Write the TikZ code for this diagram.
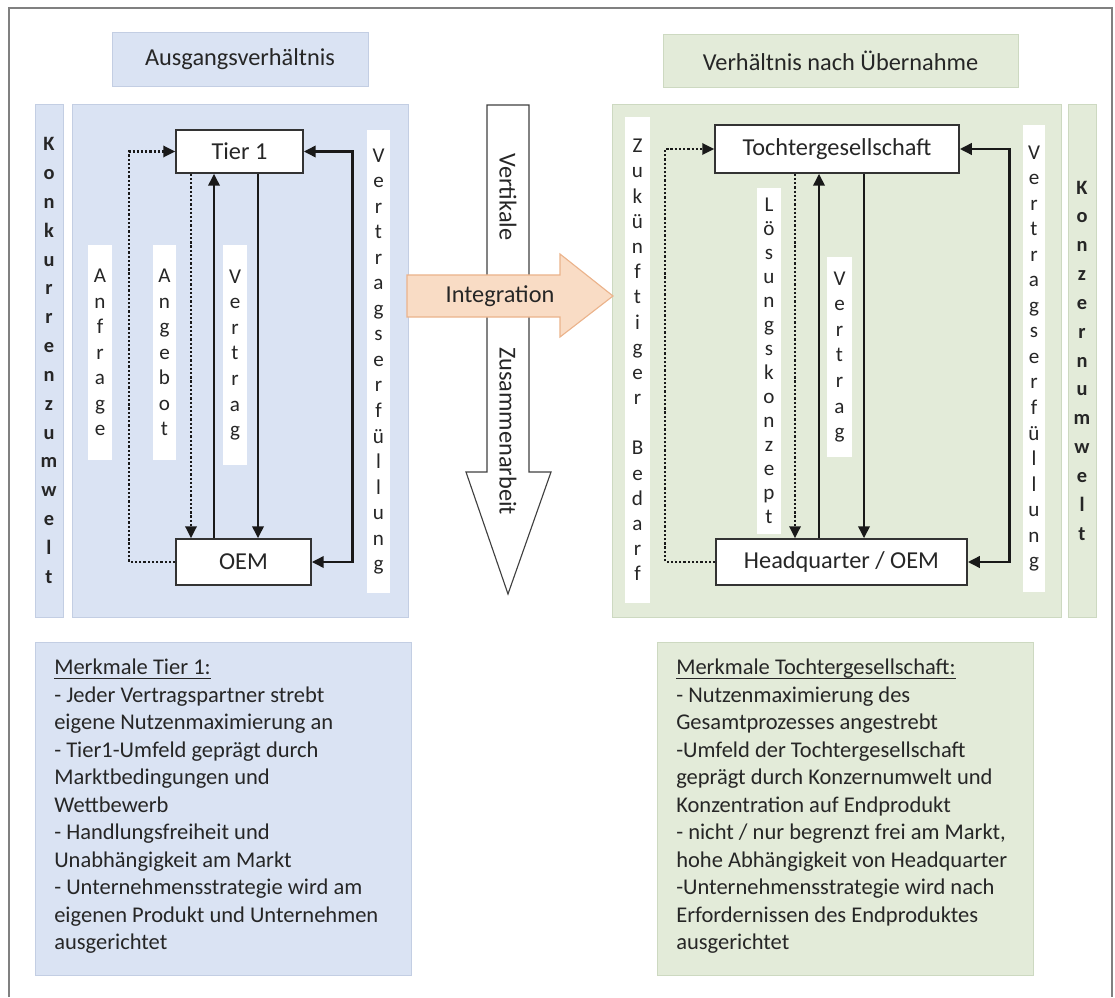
\documentclass[tikz,border=0pt]{standalone}
\usepackage{fontspec}
\setmainfont{Carlito}
\usepackage{amsmath}
\usetikzlibrary{arrows.meta, positioning, calc}

\definecolor{blueFill}{HTML}{DAE3F3}
\definecolor{blueEdge}{HTML}{C3CEE3}
\definecolor{greenFill}{HTML}{E3EBD9}
\definecolor{greenEdge}{HTML}{CDD9C1}
\definecolor{orangeFill}{HTML}{F9DCC5}
\definecolor{orangeEdge}{HTML}{EBB38B}
\definecolor{textGray}{HTML}{262626}
\definecolor{frameGray}{HTML}{808080}

\newcommand\lblfont{\fontsize{17.3}{20}\selectfont}
\newcommand\infotxt{\fontsize{16}{19.56}\selectfont}
\newcommand\envfont{\fontsize{14.5}{20.5}\selectfont\bfseries}

\begin{document}
\begin{tikzpicture}[
    x=0.025cm, y=-0.025cm,
    font=\lblfont, text=textGray,
    >={Triangle[length=8.5pt, width=8pt]},
    % panels, headings and label strips
    heading/.style={rectangle, draw=#1Edge, fill=#1Fill, line width=0.6pt, inner sep=0pt},
    panel/.style={rectangle, draw=#1Edge, fill=#1Fill, line width=0.6pt, inner sep=0pt},
    envstrip/.style={panel=#1, minimum width=0.7cm, minimum height=12.825cm, align=center, font=\envfont},
    letters/.style={rectangle, fill=white, inner sep=0pt, align=center, font={\fontsize{15}{#1}\selectfont}},
    letters/.default=18.15pt,
    partner/.style={rectangle, draw=black!80, fill=white, line width=1.1pt, inner sep=0pt},
    bigarrow/.style={draw=black!75, line width=0.8pt, line join=miter},
    info/.style={rectangle, draw=#1Edge, fill=#1Fill, line width=0.6pt, minimum width=9.4cm, minimum height=8.325cm, inner sep=0pt},
    infotext/.style={align=left, font=\infotxt, inner sep=0pt, anchor=north west},
    % connectors
    flow/.style={->, line width=2pt, draw=black!90},
    dotflow/.style={flow, line width=1.8pt, dash pattern=on 1.6pt off 1.4pt},
    both/.style={<->, line width=2pt, draw=black!90}
]
\useasboundingbox (0,0) rectangle (1115,997);

% --- Frame ---
\draw[frameGray, line width=1.4pt] (9,997) -- (9,8) -- (1112,8) -- (1112,997);

% --- Panels ---
\node[panel=blue, minimum width=8.4cm, minimum height=12.825cm] (panelL) at (240,360.5) {};
\node[heading=blue, minimum width=6.4cm, minimum height=1.35cm, above=0.425cm of panelL] (headL) {Ausgangsverhältnis};
\node[envstrip=blue] (envL) at (49,360.5) {K\\o\\n\\k\\u\\r\\r\\e\\n\\z\\u\\m\\w\\e\\l\\t};

\node[panel=green, minimum width=11.225cm, minimum height=12.825cm] (panelR) at (836.5,360.5) {};
\node[heading=green, minimum width=8.875cm, minimum height=1.325cm, above=0.4cm of panelR, xshift=0.1cm] (headR) {Verhältnis nach Übernahme};
\node[envstrip=green] (envR) at (1082,360.5) {K\\o\\n\\z\\e\\r\\n\\u\\m\\w\\e\\l\\t};

% --- Label strips ---
\node[letters, minimum width=0.6cm, minimum height=5.375cm] (sAnfrage) at (100,352.5) {A\\n\\f\\r\\a\\g\\e};
\node[letters, minimum width=0.575cm, minimum height=5.375cm] (sAngebot) at (164.5,352.5) {A\\n\\g\\e\\b\\o\\t};
\node[letters, minimum width=0.6cm, minimum height=5.5cm] (sVertragL) at (235,355) {V\\e\\r\\t\\r\\a\\g};
\node[letters, minimum width=0.575cm, minimum height=11.575cm] (sErfuellL) at (378.5,361.5) {V\\e\\r\\t\\r\\a\\g\\s\\e\\r\\f\\ü\\l\\l\\u\\n\\g};

\node[letters=17.9pt, minimum width=0.625cm, minimum height=12.15cm] (sBedarf) at (637.5,360) {Z\\u\\k\\ü\\n\\f\\t\\i\\g\\e\\r\\\mbox{}\\B\\e\\d\\a\\r\\f};
\node[letters=17.1pt, minimum width=0.6cm, minimum height=8.65cm] (sLoesung) at (769,361) {L\\ö\\s\\u\\n\\g\\s\\k\\o\\n\\z\\e\\p\\t};
\node[letters, minimum width=0.625cm, minimum height=4.975cm] (sVertragR) at (839.5,357) {V\\e\\r\\t\\r\\a\\g};
\node[letters, minimum width=0.55cm, minimum height=11.675cm] (sErfuellR) at (1034,358.5) {V\\e\\r\\t\\r\\a\\g\\s\\e\\r\\f\\ü\\l\\l\\u\\n\\g};

% --- Block arrows in the middle ---
\draw[bigarrow, fill=white] (487,105) -- (529,105) -- (529,472) -- (551,472) -- (508,594) -- (466,472) -- (487,472) -- cycle;
\draw[bigarrow, draw=orangeEdge, fill=orangeFill] (407,275) -- (560,275) -- (560,254) -- (613,296) -- (560,337) -- (560,317) -- (407,317) -- cycle;
\node[rotate=-90] (vert) at (508,197) {Vertikale};
\node[rotate=-90] (zus) at (508,431) {Zusammenarbeit};
\node (integ) at (500,296) {Integration};

% --- Partners ---
\node[partner, minimum width=3.175cm, minimum height=1.075cm] (tier1) at (239.5,151.5) {Tier 1};
\node[partner, minimum width=3.375cm, minimum height=1.15cm] (oem) at (243.5,562) {OEM};
\node[partner, minimum width=6.1cm, minimum height=1.2cm] (toch) at (837,149) {Tochtergesellschaft};
\node[partner, minimum width=6.275cm, minimum height=1.15cm] (hq) at (841.5,562) {Headquarter / OEM};

\coordinate (xAngebot) at (191,0);
\coordinate (xUpL) at (214,0);
\coordinate (xDownL) at (258,0);
\coordinate (xLoesung) at (795,0);
\coordinate (xUpR) at (819,0);
\coordinate (xDownR) at (864,0);

% --- Arrows, left ---
\draw[dotflow] (oem.west) -- ++(-46,0) |- (tier1.west);
\draw[dotflow] (tier1.south -| xAngebot) -- (oem.north -| xAngebot);
\draw[flow] (oem.north -| xUpL) -- (tier1.south -| xUpL);
\draw[flow] (tier1.south -| xDownL) -- (oem.north -| xDownL);
\draw[both] (oem.east) -- ++(41,0) |- (tier1.east);

% --- Arrows, right ---
\draw[dotflow] (hq.west) -- ++(-50,0) |- (toch.west);
\draw[dotflow] (toch.south -| xLoesung) -- (hq.north -| xLoesung);
\draw[flow] (hq.north -| xUpR) -- (toch.south -| xUpR);
\draw[flow] (toch.south -| xDownR) -- (hq.north -| xDownR);
\draw[both] (hq.east) -- ++(42,0) |- (toch.east);

% --- Characteristics ---
\node[info=blue, anchor=north west] (infoL) at (35,642) {};
\node[infotext] (infoLtext) at ([shift={(0.475cm,-0.425cm)}]infoL.north west) {\underline{\smash[b]{Merkmale Tier 1:}}\\
- Jeder Vertragspartner strebt\\
eigene Nutzenmaximierung an\\
- Tier1-Umfeld geprägt durch\\
Marktbedingungen und\\
Wettbewerb\\
- Handlungsfreiheit und\\
Unabhängigkeit am Markt\\
- Unternehmensstrategie wird am\\
eigenen Produkt und Unternehmen\\
ausgerichtet};

\node[info=green, anchor=north west] (infoR) at (657,642) {};
\node[infotext] (infoRtext) at ([shift={(0.475cm,-0.425cm)}]infoR.north west) {\underline{\smash[b]{Merkmale Tochtergesellschaft:}}\\
- Nutzenmaximierung des\\
Gesamtprozesses angestrebt\\
-Umfeld der Tochtergesellschaft\\
geprägt durch Konzernumwelt und\\
Konzentration auf Endprodukt\\
- nicht / nur begrenzt frei am Markt,\\
hohe Abhängigkeit von Headquarter\\
-Unternehmensstrategie wird nach\\
Erfordernissen des Endproduktes\\
ausgerichtet};

\end{tikzpicture}
\end{document}
